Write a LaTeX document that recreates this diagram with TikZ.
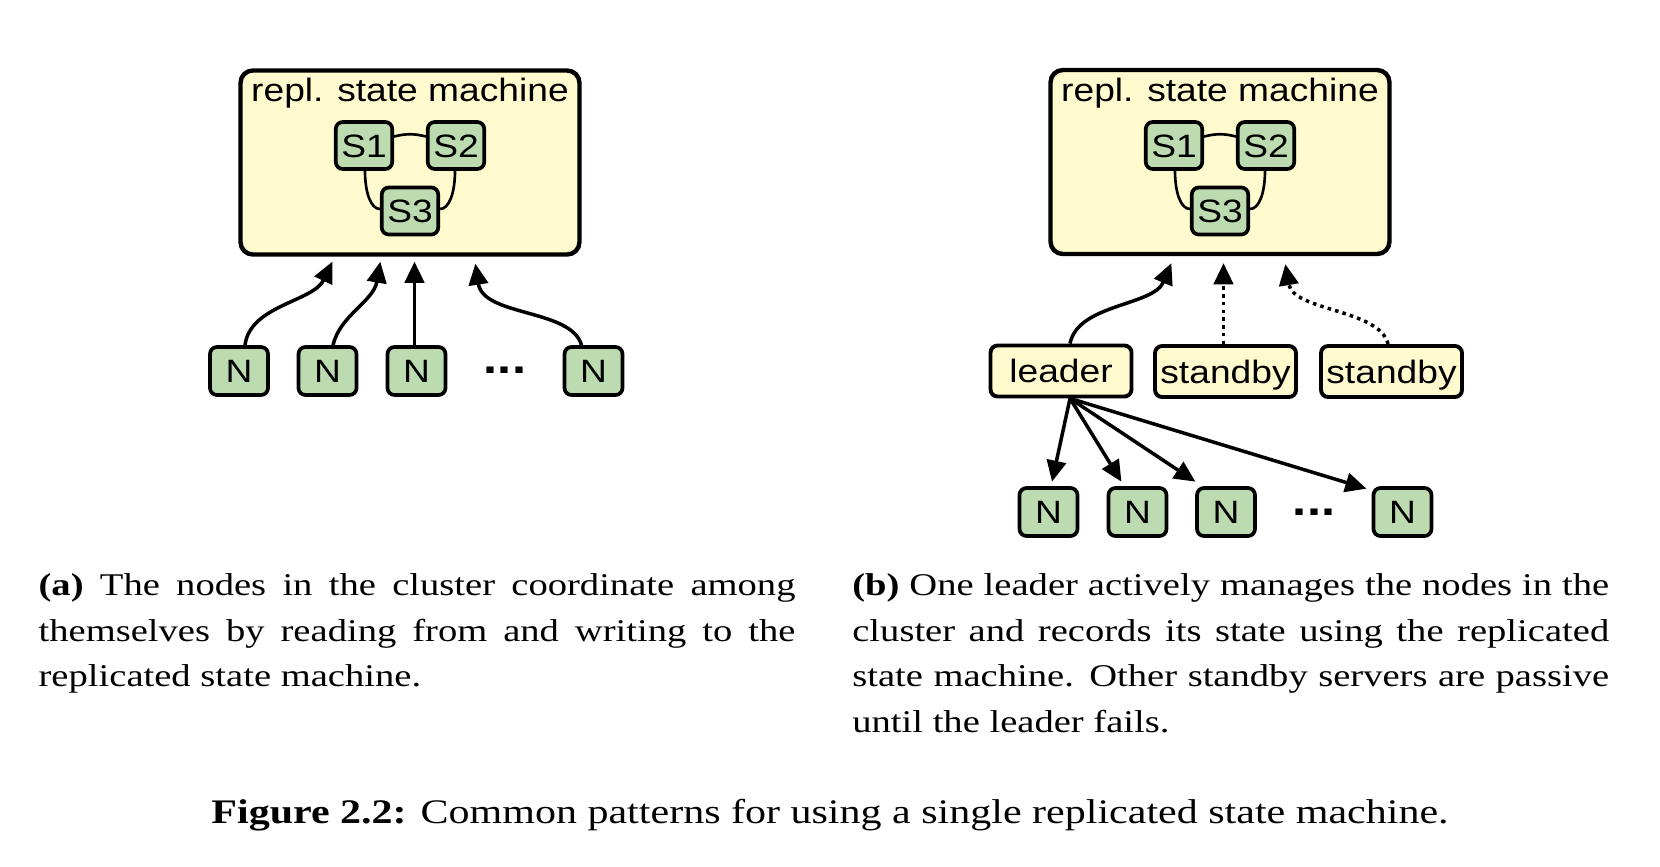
\documentclass[tikz,border=0pt]{standalone}
\usepackage{fontspec}
\setmainfont{Liberation Serif}
\setsansfont{Liberation Sans}
\usepackage{graphicx}
\usetikzlibrary{arrows.meta,calc}
\definecolor{boxyellow}{RGB}{255,251,207}
\definecolor{boxgreen}{RGB}{189,219,176}
\newcommand\hst[1]{\scalebox{1.22}[1]{#1}}
\newcommand\hsf[1]{\scalebox{1.15}[1]{#1}}
\begin{document}
\begin{tikzpicture}[x=0.02cm,y=-0.02cm,
  diag/.style={font=\sffamily\fontsize{18.4}{21.6}\selectfont, inner sep=0pt, text height=15.5pt, text depth=2.4pt},
  bigbox/.style={draw, fill=boxyellow, line width=2.5pt, rounded corners=7pt, minimum width=6.78cm, minimum height=3.68cm, inner sep=0pt},
  srv/.style={diag, draw, fill=boxgreen, line width=2.1pt, rounded corners=4pt, minimum width=1.13cm, minimum height=0.94cm},
  nd/.style={srv, minimum width=1.16cm, minimum height=0.96cm},
  role/.style={diag, draw, fill=boxyellow, line width=2.2pt, rounded corners=4pt, minimum width=2.82cm, minimum height=1.02cm},
  ttl/.style={font=\sffamily\fontsize{18.4}{21.6}\selectfont, inner sep=0pt, anchor=base},
  ellip/.style={font=\sffamily\bfseries\fontsize{25}{25}\selectfont, inner sep=0pt, anchor=base},
  link/.style={line width=1.5pt},
  arr/.style={line width=2pt, -{Triangle[length=12pt,width=11pt]}},
  dotarr/.style={arr, dash pattern=on 2pt off 2.4pt},
  subcap/.style={inner sep=0pt, anchor=base west},
  figcap/.style={inner sep=0pt, anchor=base},
]
\fill[white] (0,0) rectangle (1660,866);
\path[use as bounding box] (0,0) rectangle (1660,866);

% ---------------- (a) ----------------
\node[bigbox] (rsmA) at (410,162.5) {};
\node[ttl] (ttlA) at (410,101.5) {\hsf{repl. state machine}};
\node[srv] (sA1) at (364,145.5) {\hsf{S1}};
\node[srv] (sA2) at (456,145.5) {\hsf{S2}};
\node[srv] (sA3) at (410,211) {\hsf{S3}};
\draw[link] ($(sA1.east)+(0,-9)$) .. controls +(12,-3) and +(-12,-3) .. ($(sA2.west)+(0,-9)$);
\draw[link] ($(sA1.south)+(1,0)$) .. controls +(0,22) and +(-9,0) .. ($(sA3.west)+(0,-2)$);
\draw[link] ($(sA2.south)+(-1,0)$) .. controls +(0,22) and +(9,0) .. ($(sA3.east)+(0,-2)$);

\node[nd] (nA1) at (239,371) {\hsf{N}};
\node[nd] (nA2) at (327.5,371) {\hsf{N}};
\node[nd] (nA3) at (416.5,371) {\hsf{N}};
\node[ellip] (dotsA) at (505,373.5) {\hsf{...}};
\node[nd] (nA4) at (593.5,371) {\hsf{N}};

\draw[arr] ($(nA1.north)+(6,0)$) .. controls +(5,-40) and +(-19,40) .. ($(rsmA.south west)+(94,5)$);
\draw[arr] ($(nA2.north)+(5.5,0)$) .. controls +(7,-30) and +(-7,40) .. ($(rsmA.south west)+(142,5)$);
\draw[arr] ($(nA3.north)+(-2,0)$) -- ($(nA3.north |- rsmA.south)+(-2,5)$);
\draw[arr] ($(nA4.north)+(-12,0)$) .. controls +(-10,-36.5) and +(8,53) .. ($(rsmA.south west)+(237,7)$);

% ---------------- (b) ----------------
\node[bigbox] (rsmB) at (1220,162) {};
\node[ttl] (ttlB) at (1220,101.5) {\hsf{repl. state machine}};
\node[srv] (sB1) at (1174,145.5) {\hsf{S1}};
\node[srv] (sB2) at (1266,145.5) {\hsf{S2}};
\node[srv] (sB3) at (1220,211) {\hsf{S3}};
\draw[link] ($(sB1.east)+(0,-9)$) .. controls +(12,-3) and +(-12,-3) .. ($(sB2.west)+(0,-9)$);
\draw[link] ($(sB1.south)+(1,0)$) .. controls +(0,22) and +(-9,0) .. ($(sB3.west)+(0,-2)$);
\draw[link] ($(sB2.south)+(-1,0)$) .. controls +(0,22) and +(9,0) .. ($(sB3.east)+(0,-2)$);

\node[role] (leader) at (1061,371) {\hsf{leader}};
\node[role] (sb1) at (1225.5,371.5) {\hsf{standby}};
\node[role] (sb2) at (1391.5,371.5) {\hsf{standby}};

\draw[arr] ($(leader.north)+(9,0)$) .. controls +(8,-40) and +(-18,43) .. ($(rsmB.south west)+(123,7)$);
\draw[dotarr] ($(sb1.north)+(-2,0)$) -- ($(sb1.north |- rsmB.south)+(-2,7)$);
\draw[dotarr] ($(sb2.north)+(-3.5,0)$) .. controls +(-8,-35) and +(8,47) .. ($(rsmB.south west)+(237,8)$);

\node[nd] (nB1) at (1048.5,512) {\hsf{N}};
\node[nd] (nB2) at (1137.5,512) {\hsf{N}};
\node[nd] (nB3) at (1226,512) {\hsf{N}};
\node[ellip] (dotsB) at (1314,515.5) {\hsf{...}};
\node[nd] (nB4) at (1402.5,512) {\hsf{N}};

\coordinate (lfan) at ($(leader.south)+(9,0)$);
\draw[arr] (lfan) -- ($(nB1.north)+(3.5,-4.5)$);
\draw[arr] (lfan) -- ($(nB2.north west)+(14.75,-4.5)$);
\draw[arr] (lfan) -- ($(nB3.north west)+(0.25,-4.5)$);
\draw[arr] (lfan) -- ($(nB4.north west)+(-5.25,2.5)$);

% ---------------- captions ----------------
\node[subcap] (capA) at (38.3,595.5) {\hst{\parbox[t]{12.41cm}{\fontsize{18}{26}\selectfont
  \makebox[\linewidth][s]{\textbf{(a)} The nodes in the cluster coordinate among}\\
  \makebox[\linewidth][s]{themselves by reading from and writing to the}\\
  replicated state machine.}}};
\node[subcap] (capB) at (852,595.5) {\hst{\parbox[t]{12.41cm}{\fontsize{18}{26}\selectfont
  \makebox[\linewidth][s]{\textbf{(b)} One leader actively manages the nodes in the}\\
  \makebox[\linewidth][s]{cluster and records its state using the replicated}\\
  \makebox[\linewidth][s]{state machine. Other standby servers are passive}\\
  until the leader fails.}}};
\node[figcap] (fig) at (830,823.3) {\hst{\fontsize{19.6}{23}\selectfont\textbf{Figure 2.2:} Common patterns for using a single replicated state machine.}};
\end{tikzpicture}
\end{document}
